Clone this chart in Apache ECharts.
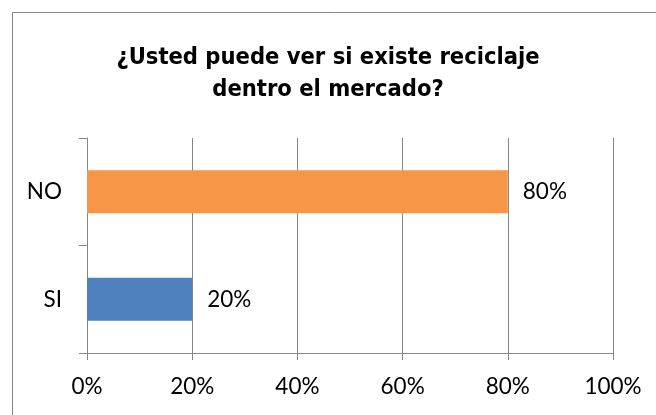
<!DOCTYPE html>
<html>
<head>
<meta charset="utf-8">
<script src="https://cdn.jsdelivr.net/npm/echarts@6/dist/echarts.min.js"></script>
<style>
  html, body { margin: 0; padding: 0; background: #fff; }
  #chart { width: 656px; height: 415px; }
</style>
</head>
<body>
<div id="chart"></div>
<script>
// datos
const categories = ['SI', 'NO'];
const values = [20, 80];
const barColors = ['#4F81BD', '#F79646'];
const xTicks = [0, 20, 40, 60, 80, 100];

const gray = '#868686';
const labelFont = 'Lato, "Open Sans", sans-serif';
const chart = echarts.init(document.getElementById('chart'));

chart.setOption({
  animation: false,
  title: {
    text: '¿Usted puede ver si existe reciclaje\ndentro el mercado?',
    left: 'center',
    top: 37,
    textStyle: {
      fontFamily: '"Liberation Sans Narrow", "DejaVu Sans Condensed", "Liberation Sans", sans-serif',
      fontWeight: 'bold',
      fontSize: 23.5,
      lineHeight: 32,
      color: '#000'
    }
  },
  graphic: [{
    type: 'rect',
    shape: { x: 12.5, y: 12.5, width: 660, height: 420 },
    style: { fill: 'none', stroke: gray, lineWidth: 1 },
    silent: true
  }],
  grid: { left: 87, right: 43, top: 138, bottom: 62, containLabel: false },
  xAxis: {
    type: 'value',
    min: xTicks[0],
    max: xTicks[xTicks.length - 1],
    interval: 20,
    axisLine: { show: true, lineStyle: { color: gray } },
    axisTick: { show: true, length: 7, lineStyle: { color: gray } },
    splitLine: { show: true, lineStyle: { color: gray } },
    axisLabel: {
      formatter: '{value}%',
      margin: 22,
      fontFamily: labelFont,
      fontSize: 22.5,
      color: '#000'
    }
  },
  yAxis: {
    type: 'category',
    data: categories,
    axisLine: { show: true, lineStyle: { color: gray } },
    axisTick: { show: true, length: 8, lineStyle: { color: gray } },
    axisLabel: {
      margin: 25,
      fontFamily: labelFont,
      fontSize: 22.5,
      color: '#000'
    }
  },
  series: [{
    type: 'bar',
    barWidth: 43,
    data: values.map((v, i) => ({ value: v, itemStyle: { color: barColors[i] } })),
    label: {
      show: true,
      position: 'right',
      distance: 15,
      formatter: '{c}%',
      fontFamily: labelFont,
      fontSize: 22.5,
      color: '#000'
    }
  }]
});
</script>
</body>
</html>
